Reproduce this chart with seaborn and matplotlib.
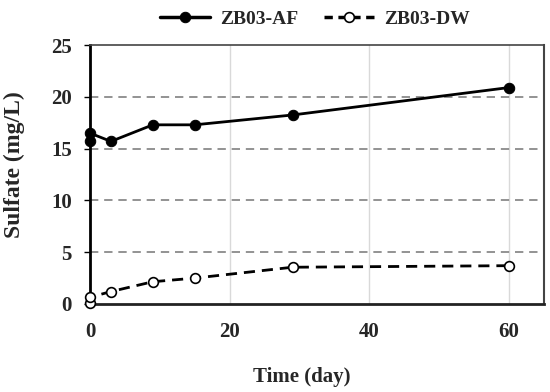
import matplotlib
matplotlib.use("Agg")
import matplotlib.pyplot as plt
import seaborn as sns
import pandas as pd

time_af = [0, 0, 3, 9, 15, 29, 60]
sulfate_af = [15.7, 16.5, 15.7, 17.3, 17.3, 18.25, 20.9]
time_dw = [0, 0, 3, 9, 15, 29, 60]
sulfate_dw = [0.05, 0.65, 1.2, 2.15, 2.5, 3.55, 3.7]
labels = ["ZB03-AF", "ZB03-DW"]

sns.set_theme(style="white")
plt.rcParams["font.family"] = ["Liberation Serif", "DejaVu Serif"]
plt.rcParams["font.weight"] = "bold"

df_af = pd.DataFrame({"t": time_af, "s": sulfate_af})
df_dw = pd.DataFrame({"t": time_dw, "s": sulfate_dw})

fig = plt.figure(figsize=(5.5, 3.92), dpi=100)
ax = fig.add_axes([0.1636, 0.2245, 0.8254, 0.6605])

for x in [20, 40, 60]:
    ax.axvline(x, color="#d9d9d9", lw=1.0, zorder=0)
for y in [5, 10, 15, 20]:
    ax.axhline(y, color="#808080", lw=1.2, ls=(0, (5, 3.5)), zorder=0)

sns.lineplot(data=df_af, x="t", y="s", sort=False, estimator=None, ax=ax,
             color="black", lw=2.0, marker="o", markersize=7.5,
             markerfacecolor="black", markeredgecolor="black", label=labels[0], zorder=3)
sns.lineplot(data=df_dw, x="t", y="s", sort=False, estimator=None, ax=ax,
             color="black", lw=2.0, ls=(0, (4, 2.5)), marker="o", markersize=7,
             markerfacecolor="white", markeredgecolor="black", markeredgewidth=1.2,
             label=labels[1], zorder=3)

for ln in ax.get_lines()[-2:]:
    ln.set_clip_on(False)

ax.set_xlim(0, 65)
ax.set_ylim(0, 25)
ax.set_xticks([0, 20, 40, 60])
ax.set_yticks([0, 5, 10, 15, 20, 25])
ax.tick_params(axis="x", length=0, pad=13, labelsize=15)
ax.tick_params(axis="y", length=4, width=1, direction="out", pad=9, labelsize=15, left=True, color="black")
for lab in ax.get_xticklabels() + ax.get_yticklabels():
    lab.set_fontweight("bold")

ax.spines["left"].set_color("black")
ax.spines["left"].set_linewidth(2.0)
ax.spines["bottom"].set_color("#222222")
ax.spines["bottom"].set_linewidth(2.0)
ax.spines["top"].set_color("#444444")
ax.spines["top"].set_linewidth(1.2)
ax.spines["right"].set_color("#444444")
ax.spines["right"].set_linewidth(1.5)

ax.set_xlabel("Time (day)", fontsize=15, fontweight="bold")
ax.xaxis.set_label_coords(0.466, -0.245)
ax.set_ylabel("Sulfate (mg/L)", fontsize=17, fontweight="bold")
ax.yaxis.set_label_coords(-0.143, 0.54)

leg = ax.legend(loc="lower center", bbox_to_anchor=(0.495, 1.0), ncol=2, frameon=False,
                handlelength=2.6, columnspacing=1.3, handletextpad=0.5,
                prop={"weight": "bold", "size": 14})
hl = leg.get_lines()
hl[0].set_linewidth(2.5)
hl[1].set_linewidth(2.5)
hl[1].set_linestyle((0, (2.4, 1.6)))

fig.savefig("out.png", dpi=100)
